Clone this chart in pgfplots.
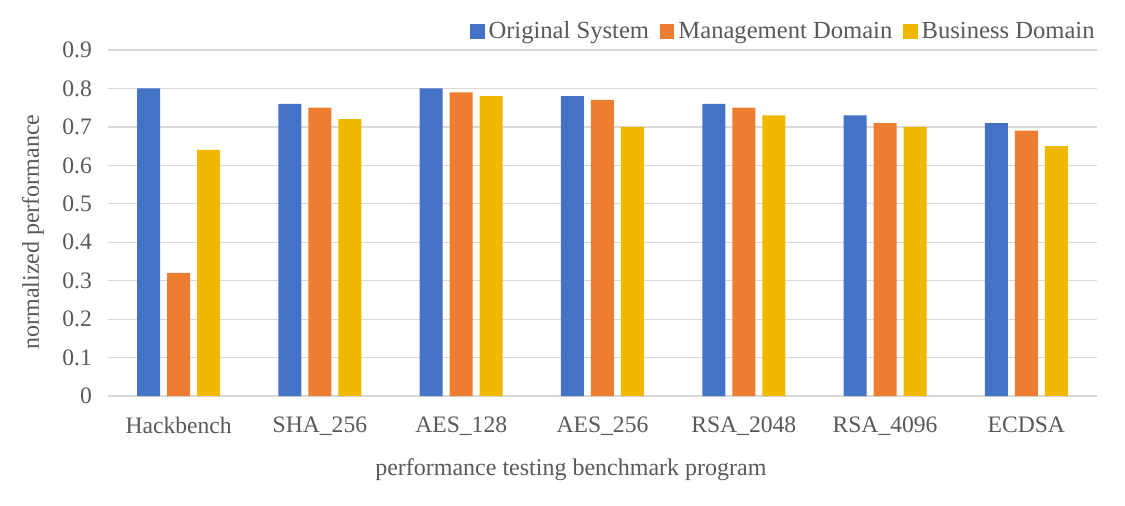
\documentclass[border=0pt]{standalone}
\usepackage{pgfplots}
\pgfplotsset{compat=1.18}
\usepackage{fontspec}
\setmainfont{Liberation Serif}
\definecolor{oblue}{HTML}{4472C4}
\definecolor{oorange}{HTML}{ED7D31}
\definecolor{oyellow}{HTML}{F0B900}
\definecolor{txtgray}{HTML}{595959}
\definecolor{gridgray}{HTML}{D9D9D9}
\begin{document}
\begin{tikzpicture}
\useasboundingbox (-54pt,-54.5pt) rectangle (508.5pt,198pt);
\begin{axis}[
  at={(0,0)}, anchor=south west,
  scale only axis,
  width=494.5pt, height=173pt,
  ybar=3.5pt,
  bar width=11.5pt,
  xmin=-0.5, xmax=6.5,
  ymin=0, ymax=0.9,
  xtick={0,1,2,3,4,5,6},
  xticklabels={Hackbench,SHA\_256,AES\_128,AES\_256,RSA\_2048,RSA\_4096,ECDSA},
  ytick={0,0.1,0.2,0.3,0.4,0.5,0.6,0.7,0.8,0.9},
  /pgf/number format/fixed,
  /pgf/number format/precision=1,
  /pgf/number format/assume math mode=true,
  ymajorgrids=true,
  grid style={gridgray, line width=0.6pt},
  axis line style={draw=none},
  major tick length=0pt,
  tick label style={font=\fontsize{11.8}{13}\selectfont, text=txtgray},
  xticklabel style={yshift=-7pt},
  yticklabel style={xshift=-4.5pt},
  xlabel={performance testing benchmark program},
  ylabel={normalized performance},
  label style={font=\fontsize{12}{14}\selectfont, text=txtgray},
  xlabel style={at={(axis description cs:0.468,0)}, anchor=center, yshift=-37pt},
  ylabel style={at={(axis description cs:-0.0758,0.474)}, anchor=center},
  legend columns=3,
  legend style={at={(1,1)}, anchor=south east, xshift=4pt, yshift=0pt, draw=none, fill=none,
    font=\fontsize{12.3}{14}\selectfont, text=txtgray,
    /tikz/every even column/.append style={column sep=3.5pt},
    /tikz/every odd column/.append style={column sep=0pt}},
  legend image code/.code={\fill[#1] (0pt,-3.6pt) rectangle (7.2pt,3.6pt);},
]
\addplot[fill=oblue, draw=none] coordinates {(0,0.80) (1,0.76) (2,0.80) (3,0.78) (4,0.76) (5,0.73) (6,0.71)};
\addplot[fill=oorange, draw=none] coordinates {(0,0.32) (1,0.75) (2,0.79) (3,0.77) (4,0.75) (5,0.71) (6,0.69)};
\addplot[fill=oyellow, draw=none] coordinates {(0,0.64) (1,0.72) (2,0.78) (3,0.70) (4,0.73) (5,0.70) (6,0.65)};
\legend{Original System, Management Domain, Business Domain}
\end{axis}
\end{tikzpicture}
\end{document}
